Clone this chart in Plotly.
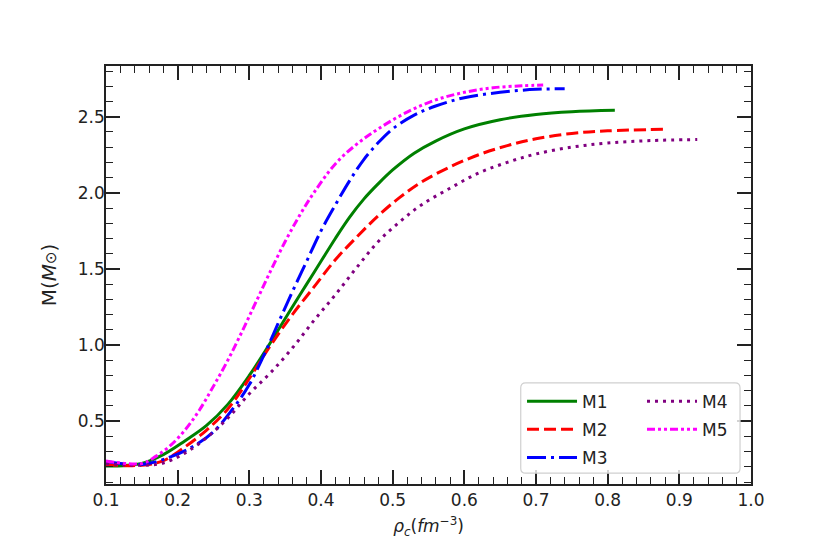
import plotly.graph_objects as go

# central density (fm^-3) vs mass (M_sun) for five models
m1_rho = [0.10, 0.15, 0.18, 0.21, 0.24, 0.27, 0.30, 0.33, 0.36, 0.38, 0.40, 0.42, 0.44, 0.46, 0.48, 0.50, 0.53, 0.56, 0.60, 0.65, 0.70, 0.75, 0.81]
m1_mass = [0.205, 0.222, 0.28, 0.37, 0.47, 0.61, 0.80, 1.02, 1.25, 1.40, 1.55, 1.70, 1.84, 1.96, 2.06, 2.15, 2.26, 2.34, 2.42, 2.48, 2.515, 2.533, 2.542]

m2_rho = [0.10, 0.15, 0.18, 0.21, 0.24, 0.27, 0.30, 0.33, 0.36, 0.39, 0.42, 0.45, 0.48, 0.51, 0.54, 0.58, 0.62, 0.66, 0.70, 0.75, 0.80, 0.88]
m2_mass = [0.215, 0.21, 0.24, 0.33, 0.44, 0.58, 0.78, 1.00, 1.20, 1.38, 1.56, 1.71, 1.85, 1.97, 2.07, 2.17, 2.25, 2.31, 2.355, 2.39, 2.407, 2.417]

m3_rho = [0.10, 0.15, 0.19, 0.22, 0.25, 0.28, 0.30, 0.32, 0.34, 0.36, 0.38, 0.40, 0.42, 0.44, 0.46, 0.48, 0.50, 0.53, 0.56, 0.60, 0.65, 0.70, 0.74]
m3_mass = [0.235, 0.215, 0.265, 0.33, 0.43, 0.60, 0.74, 0.93, 1.14, 1.35, 1.55, 1.75, 1.92, 2.08, 2.22, 2.33, 2.42, 2.51, 2.57, 2.625, 2.66, 2.68, 2.683]

m4_rho = [0.10, 0.15, 0.18, 0.21, 0.24, 0.27, 0.30, 0.33, 0.36, 0.39, 0.42, 0.45, 0.48, 0.51, 0.54, 0.58, 0.62, 0.66, 0.70, 0.75, 0.80, 0.86, 0.925]
m4_mass = [0.22, 0.21, 0.225, 0.29, 0.39, 0.52, 0.68, 0.82, 0.98, 1.16, 1.33, 1.51, 1.68, 1.81, 1.92, 2.03, 2.13, 2.20, 2.255, 2.30, 2.327, 2.343, 2.35]

m5_rho = [0.10, 0.15, 0.17, 0.19, 0.21, 0.23, 0.25, 0.27, 0.29, 0.31, 0.33, 0.35, 0.37, 0.39, 0.42, 0.45, 0.48, 0.52, 0.56, 0.60, 0.64, 0.68, 0.71]
m5_mass = [0.238, 0.222, 0.27, 0.34, 0.44, 0.57, 0.73, 0.90, 1.09, 1.29, 1.49, 1.68, 1.85, 2.00, 2.19, 2.32, 2.42, 2.53, 2.61, 2.66, 2.69, 2.703, 2.708]

FONT = "DejaVu Sans"
INK = "#222222"

fig = go.Figure()

def add_model(name, x, y, color, dash, legend, group):
    fig.add_trace(go.Scatter(
        x=x, y=y, mode="lines", name=name,
        line=dict(color=color, width=3, dash=dash, shape="spline", smoothing=1.0),
        legend=legend, legendgroup=group))

add_model("M1", m1_rho, m1_mass, "green", "solid", "legend", "a")
add_model("M2", m2_rho, m2_mass, "red", "12px,5px", "legend", "b")
add_model("M3", m3_rho, m3_mass, "blue", "19px,5px,3px,5px", "legend", "c")
add_model("M4", m4_rho, m4_mass, "purple", "3px,5px", "legend2", "d")
add_model("M5", m5_rho, m5_mass, "magenta", "8px,3px,3px,3px,3px,3px", "legend2", "e")

axis_common = dict(
    showgrid=False, zeroline=False, automargin=False,
    showline=True, linecolor=INK, linewidth=1.5, mirror="allticks",
    ticks="inside", ticklen=14, tickwidth=1.5, tickcolor=INK,
    tickfont=dict(family=FONT, size=17, color=INK),
)

fig.update_xaxes(
    range=[0.1, 1.0], dtick=0.1, tick0=0.1, tickformat=".1f",
    minor=dict(ticks="inside", ticklen=7, tickwidth=1.2, tickcolor=INK, dtick=0.02, tick0=0.1),
    title=dict(text="<i>ρ</i><sub><i>c</i></sub>(<i>fm</i><sup>−3</sup>)",
               font=dict(family=FONT, size=17, color=INK), standoff=11),
    **axis_common)
fig.update_yaxes(
    range=[0.087, 2.833], tickvals=[0.5, 1.0, 1.5, 2.0, 2.5], tickformat=".1f",
    ticklabelstandoff=-4,
    minor=dict(ticks="inside", ticklen=7, tickwidth=1.2, tickcolor=INK, dtick=0.1, tick0=0.0),
    title=dict(text="M(<i>M</i><span style='font-size:15px'>⊙</span>)",
               font=dict(family=FONT, size=20, color=INK), standoff=16),
    **axis_common)

legend_common = dict(
    font=dict(family=FONT, size=17, color=INK),
    bgcolor="rgba(0,0,0,0)", borderwidth=0,
    traceorder="grouped", tracegroupgap=3, itemwidth=50,
    yanchor="top", xanchor="left", y=0.24,
)

# rounded legend frame, radius given in pixels
pw, ph = 645.0, 418.0
x0, x1, y0, y1 = 0.643, 0.983, 0.026, 0.242
rx, ry = 5 / pw, 5 / ph
frame = (f"M {x0 + rx},{y0} L {x1 - rx},{y0} Q {x1},{y0} {x1},{y0 + ry} "
         f"L {x1},{y1 - ry} Q {x1},{y1} {x1 - rx},{y1} "
         f"L {x0 + rx},{y1} Q {x0},{y1} {x0},{y1 - ry} "
         f"L {x0},{y0 + ry} Q {x0},{y0} {x0 + rx},{y0} Z")

fig.update_layout(
    width=830, height=554,
    margin=dict(l=98, r=87, t=58, b=78),
    paper_bgcolor="white", plot_bgcolor="white",
    showlegend=True,
    legend=dict(x=0.645, **legend_common),
    legend2=dict(x=0.831, **legend_common),
    shapes=[dict(type="path", path=frame, xref="paper", yref="paper",
                 line=dict(color="#d0d0d0", width=1.2),
                 fillcolor="rgba(255,255,255,0.8)", layer="above")],
)

fig.write_html("out.html")
